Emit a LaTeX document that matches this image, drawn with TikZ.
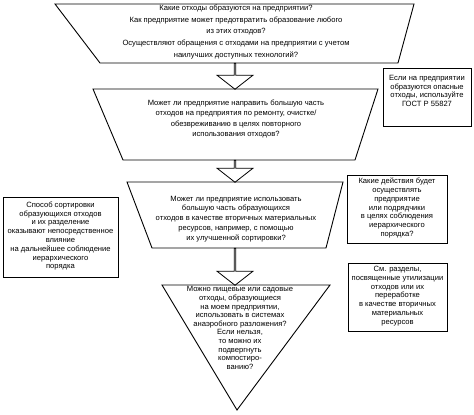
\documentclass[tikz,border=0pt]{standalone}
\usepackage{fontspec}
\setmainfont{Liberation Sans}
\usetikzlibrary{shapes.arrows}
\tikzset{
  txt/.style={align=center, inner sep=0pt, font=\fontsize{7.6}{8.8}\selectfont},
  frame/.style={draw, line width=0.9pt, line join=miter},
  sidebox/.style={draw, line width=0.9pt, inner sep=0pt},
  blockarrow/.style={draw, line width=0.8pt, fill=white, single arrow, shape border rotate=270,
    inner sep=0pt, single arrow tip angle=104},
}
\begin{document}
\begin{tikzpicture}[x=1pt, y=-1pt]
\useasboundingbox (0,0) rectangle (474,415);
% trapezoid 1
\coordinate (t1a) at (55,4); \coordinate (t1b) at (414,4);
\coordinate (t1c) at (398,63); \coordinate (t1d) at (100,63);
\draw[frame] (t1a) -- (t1b) -- (t1c) -- (t1d) -- cycle;
\node[txt, font=\fontsize{7.6}{11.8}\selectfont] (q1) at (236,32) {Какие отходы образуются на предприятии?\\
Как предприятие может предотвратить образование любого\\
из этих отходов?\\
Осуществляют обращения с отходами на предприятии с учетом\\
наилучших доступных технологий?};
% arrow 1
\node[blockarrow, minimum height=26pt, minimum width=36pt, single arrow head extend=10.5pt] (a1) at (235,76) {};
% trapezoid 2
\coordinate (t2a) at (93,89); \coordinate (t2b) at (378,89);
\coordinate (t2c) at (355,160); \coordinate (t2d) at (123,160);
\draw[frame] (t2a) -- (t2b) -- (t2c) -- (t2d) -- cycle;
\node[txt, font=\fontsize{7.6}{10.6}\selectfont] (q2) at (236,119) {Может ли предприятие направить большую часть\\
отходов на предприятия по ремонту, очистке/\\
обезвреживанию в целях повторного\\
использования отходов?};
% arrow 2
\node[blockarrow, minimum height=22pt, minimum width=36pt, single arrow head extend=10.5pt] (a2) at (235,171) {};
% trapezoid 3
\coordinate (t3a) at (127,182); \coordinate (t3b) at (343,182);
\coordinate (t3c) at (326,248); \coordinate (t3d) at (152,248);
\draw[frame] (t3a) -- (t3b) -- (t3c) -- (t3d) -- cycle;
\node[txt, font=\fontsize{7.6}{9.9}\selectfont] (q3) at (236,219) {Может ли предприятие использовать\\
большую часть образующихся\\
отходов в качестве вторичных материальных\\
ресурсов, например, с помощью\\
их улучшенной сортировки?};
% arrow 3
\node[blockarrow, minimum height=37pt, minimum width=36pt, single arrow head extend=10.5pt] (a3) at (235,266.5) {};
% triangle
\coordinate (tra) at (162,285); \coordinate (trb) at (330,285); \coordinate (trc) at (237,410);
\draw[frame] (tra) -- (trb) -- (trc) -- cycle;
\node[txt, font=\fontsize{7.6}{8.6}\selectfont] (q4) at (240,328) {Можно пищевые или садовые\\
отходы, образующиеся\\
на моем предприятии,\\
использовать в системах\\
анаэробного разложения?\\
Если нельзя,\\
то можно их\\
подвергнуть\\
компостиро-\\
ванию?};
% side boxes
\draw[sidebox] (383,68) rectangle (471,126);
\node[txt] (sa) at (427,91) {Если на предприятии\\
образуются опасные\\
отходы, используйте\\
ГОСТ Р 55827};
\draw[sidebox] (3,197) rectangle (118,277);
\node[txt] (sb) at (60.5,236) {Способ сортировки\\
образующихся отходов\\
и их разделение\\
оказывают непосредственное\\
влияние\\
на дальнейшее соблюдение\\
иерархического\\
порядка};
\draw[sidebox] (347,175) rectangle (447,243);
\node[txt] (sc) at (397,208) {Какие действия будет\\
осуществлять\\
предприятие\\
или подрядчики\\
в целях соблюдения\\
иерархического\\
порядка?};
\draw[sidebox] (348,263) rectangle (447,331);
\node[txt] (sd) at (397.5,296) {См. разделы,\\
посвященные утилизации\\
отходов или их\\
переработке\\
в качестве вторичных\\
материальных\\
ресурсов};
\end{tikzpicture}
\end{document}
